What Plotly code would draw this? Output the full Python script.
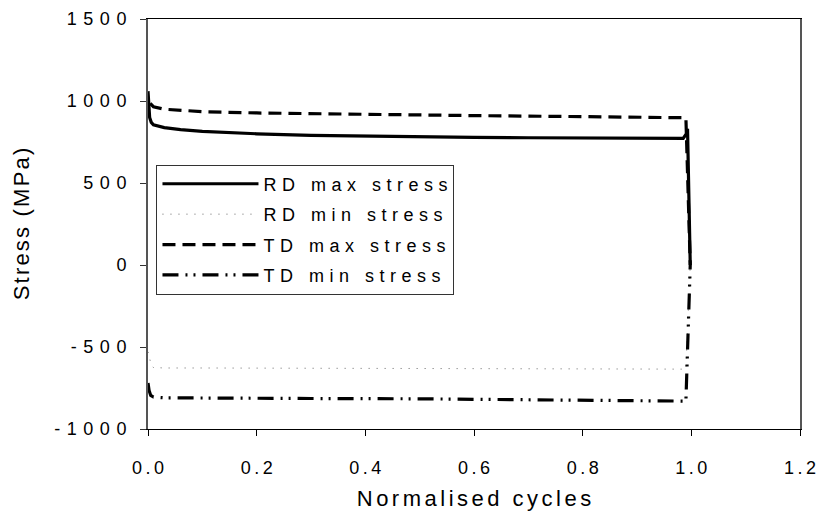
import plotly.graph_objects as go

# Normalised cycles and stresses (MPa)
rd_max_x = [0.0, 0.001, 0.003, 0.006, 0.01, 0.03, 0.06, 0.1, 0.2, 0.3, 0.4, 0.5, 0.6, 0.7, 0.8, 0.9, 0.97, 0.985, 0.991, 0.993, 0.998]
rd_max_y = [1060, 960, 900, 870, 855, 838, 825, 815, 800, 790, 785, 780, 778, 776, 774, 772, 770, 772, 800, 830, 0]

rd_min_x = [0.0, 0.003, 0.006, 0.01, 0.03, 0.1, 0.3, 0.5, 0.7, 0.9, 0.99, 0.998]
rd_min_y = [-530, -580, -610, -625, -628, -628, -629, -630, -631, -633, -635, 0]

td_max_x = [0.004, 0.01, 0.03, 0.06, 0.1, 0.2, 0.3, 0.4, 0.5, 0.6, 0.7, 0.8, 0.9, 0.99, 0.998]
td_max_y = [985, 965, 950, 942, 935, 927, 922, 918, 914, 911, 908, 905, 902, 898, 0]

td_min_x = [0.0, 0.002, 0.005, 0.01, 0.03, 0.1, 0.3, 0.5, 0.7, 0.9, 0.99, 0.998]
td_min_y = [-720, -765, -795, -805, -810, -812, -814, -816, -820, -825, -830, 0]

names = ["RD max stress", "RD min stress", "TD max stress", "TD min stress"]

x_ticks = [0, 0.2, 0.4, 0.6, 0.8, 1.0, 1.2]
x_tick_labels = ["0.0", "0.2", "0.4", "0.6", "0.8", "1.0", "1.2"]
y_ticks = [-1000, -500, 0, 500, 1000, 1500]
y_tick_labels = ["-1000", "-500", "0", "500", "1000", "1500"]


def sp(t, ls=5.5):
    # widen the letter spacing like the original, without trailing space
    if len(t) < 2:
        return t
    return '<span style="letter-spacing:%spx">%s</span>%s' % (ls, t[:-1], t[-1])


fig = go.Figure()
fig.add_trace(go.Scatter(x=rd_max_x, y=rd_max_y, mode="lines", name=sp(names[0]), legendgroup="a",
                         line=dict(color="black", width=3.2)))
fig.add_trace(go.Scatter(x=rd_min_x, y=rd_min_y, mode="lines", name=sp(names[1]), legendgroup="b",
                         line=dict(color="#666666", width=1, dash="1px,7px")))
fig.add_trace(go.Scatter(x=td_max_x, y=td_max_y, mode="lines", name=sp(names[2]), legendgroup="c",
                         line=dict(color="black", width=3.2, dash="13px,7px")))
fig.add_trace(go.Scatter(x=td_min_x, y=td_min_y, mode="lines", name=sp(names[3]), legendgroup="d",
                         line=dict(color="black", width=3.2, dash="16px,7px,2px,6px,2px,7px")))

font = "Liberation Sans, Arial, sans-serif"
fig.update_layout(
    width=817, height=519,
    margin=dict(l=148, r=17, t=19, b=90),
    paper_bgcolor="white", plot_bgcolor="white",
    font=dict(family=font, size=18, color="black"),
    showlegend=True,
    legend=dict(x=0.013, y=0.645, xanchor="left", yanchor="top",
                bgcolor="white", bordercolor="#333333", borderwidth=1,
                font=dict(size=18), itemwidth=96, tracegroupgap=4,
                entrywidth=200),
    xaxis=dict(range=[0, 1.2], tickvals=x_ticks,
               ticktext=[sp(t, 3.5) for t in x_tick_labels],
               ticklabeloverflow="allow",
               showgrid=False, zeroline=False,
               showline=True, linecolor="black", linewidth=1, mirror=True,
               ticks="outside", ticklen=6, tickcolor="black",
               ticklabelstandoff=16, automargin=False,
               title=dict(text=sp("Normalised cycles", 3.5), standoff=14)),
    yaxis=dict(range=[-1000, 1500], tickvals=y_ticks,
               ticktext=[sp(t, 6.5) for t in y_tick_labels],
               showgrid=False, zeroline=False,
               showline=True, linecolor="#555555", linewidth=2, mirror=True,
               ticks="outside", ticklen=6, tickcolor="#333333",
               ticklabelstandoff=10, automargin=False,
               title=dict(text=sp("Stress (MPa)", 2.2), standoff=19)),
)

fig.write_html("out.html")
